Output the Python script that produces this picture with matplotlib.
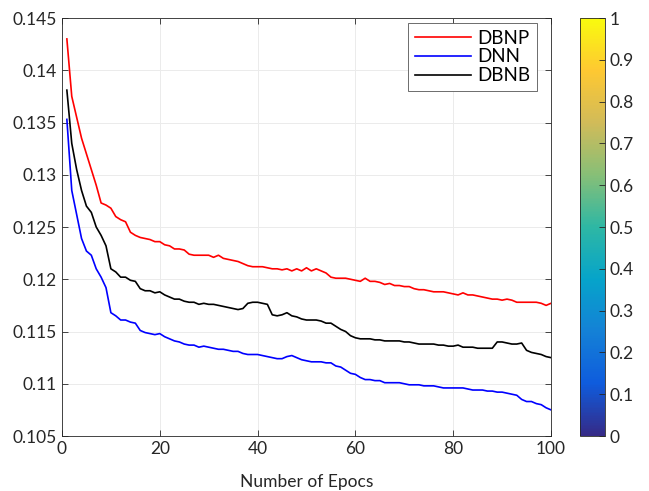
import numpy as np
import matplotlib
matplotlib.use("Agg")
import matplotlib.pyplot as plt
from matplotlib.colors import LinearSegmentedColormap, Normalize
from matplotlib.cm import ScalarMappable

plt.rcParams['font.family'] = ['Lato', 'DejaVu Sans']

# --- Data ---
epochs = list(range(1, 101))

dbnp = [0.1430, 0.1375, 0.1355, 0.1335, 0.1320, 0.1305, 0.1290, 0.1273, 0.1271, 0.1268,
        0.1260, 0.1257, 0.1255, 0.1245, 0.1242, 0.1240, 0.1239, 0.1238, 0.1236, 0.1236,
        0.1233, 0.1232, 0.1229, 0.1229, 0.1228, 0.1224, 0.1223, 0.1223, 0.1223, 0.1223,
        0.1221, 0.1223, 0.1220, 0.1219, 0.1218, 0.1217, 0.1215, 0.1213, 0.1212, 0.1212,
        0.1212, 0.1211, 0.1210, 0.1210, 0.1209, 0.1210, 0.1208, 0.1210, 0.1208, 0.1211,
        0.1208, 0.1210, 0.1208, 0.1206, 0.1202, 0.1201, 0.1201, 0.1201, 0.1200, 0.1199,
        0.1198, 0.1201, 0.1198, 0.1198, 0.1197, 0.1195, 0.1196, 0.1194, 0.1194, 0.1193,
        0.1193, 0.1191, 0.1190, 0.1190, 0.1189, 0.1188, 0.1188, 0.1188, 0.1187, 0.1186,
        0.1185, 0.1187, 0.1185, 0.1185, 0.1184, 0.1183, 0.1182, 0.1181, 0.1181, 0.1180,
        0.1181, 0.1180, 0.1178, 0.1178, 0.1178, 0.1178, 0.1178, 0.1177, 0.1175, 0.1177]

dnn = [0.1353, 0.1285, 0.1262, 0.1239, 0.1227, 0.1223, 0.1210, 0.1202, 0.1192, 0.1168,
       0.1165, 0.1161, 0.1161, 0.1159, 0.1158, 0.1151, 0.1149, 0.1148, 0.1147, 0.1148,
       0.1145, 0.1143, 0.1141, 0.1140, 0.1138, 0.1137, 0.1137, 0.1135, 0.1136, 0.1135,
       0.1134, 0.1133, 0.1133, 0.1132, 0.1131, 0.1131, 0.1129, 0.1128, 0.1128, 0.1128,
       0.1127, 0.1126, 0.1125, 0.1124, 0.1124, 0.1126, 0.1127, 0.1125, 0.1123, 0.1122,
       0.1121, 0.1121, 0.1121, 0.1120, 0.1120, 0.1117, 0.1116, 0.1113, 0.1110, 0.1109,
       0.1106, 0.1104, 0.1104, 0.1103, 0.1103, 0.1101, 0.1101, 0.1101, 0.1101, 0.1100,
       0.1099, 0.1099, 0.1099, 0.1098, 0.1098, 0.1098, 0.1097, 0.1096, 0.1096, 0.1096,
       0.1096, 0.1096, 0.1095, 0.1094, 0.1094, 0.1094, 0.1093, 0.1093, 0.1092, 0.1092,
       0.1091, 0.1090, 0.1089, 0.1085, 0.1083, 0.1083, 0.1081, 0.1080, 0.1077, 0.1075]

dbnb = [0.1381, 0.1330, 0.1305, 0.1285, 0.1270, 0.1264, 0.1250, 0.1242, 0.1232, 0.1210,
        0.1207, 0.1202, 0.1202, 0.1199, 0.1198, 0.1191, 0.1189, 0.1189, 0.1187, 0.1188,
        0.1185, 0.1183, 0.1181, 0.1181, 0.1179, 0.1178, 0.1178, 0.1176, 0.1177, 0.1176,
        0.1176, 0.1175, 0.1174, 0.1173, 0.1172, 0.1171, 0.1172, 0.1177, 0.1178, 0.1178,
        0.1177, 0.1176, 0.1166, 0.1165, 0.1166, 0.1168, 0.1165, 0.1164, 0.1162, 0.1161,
        0.1161, 0.1161, 0.1160, 0.1158, 0.1158, 0.1155, 0.1152, 0.1150, 0.1146, 0.1144,
        0.1143, 0.1143, 0.1143, 0.1142, 0.1142, 0.1141, 0.1141, 0.1141, 0.1141, 0.1140,
        0.1140, 0.1139, 0.1138, 0.1138, 0.1138, 0.1138, 0.1137, 0.1137, 0.1136, 0.1136,
        0.1137, 0.1135, 0.1135, 0.1135, 0.1134, 0.1134, 0.1134, 0.1134, 0.1140, 0.1140,
        0.1139, 0.1138, 0.1138, 0.1139, 0.1132, 0.1130, 0.1129, 0.1128, 0.1126, 0.1125]

yticks = [0.105, 0.11, 0.115, 0.12, 0.125, 0.13, 0.135, 0.14, 0.145]
ytick_labels = ['0.105', '0.11', '0.115', '0.12', '0.125', '0.13', '0.135', '0.14', '0.145']
xticks = [0, 20, 40, 60, 80, 100]
cbar_ticks = [0, 0.1, 0.2, 0.3, 0.4, 0.5, 0.6, 0.7, 0.8, 0.9, 1]
cbar_labels = ['0', '0.1', '0.2', '0.3', '0.4', '0.5', '0.6', '0.7', '0.8', '0.9', '1']

# approximate MATLAB parula
parula_pts = ['#352a87', '#0f5cdd', '#1481d6', '#06a4ca', '#2eb7a4',
              '#87bf77', '#d1bb59', '#fec832', '#f9fb0e']
parula = LinearSegmentedColormap.from_list('parula', parula_pts)

FS = 12.5
axis_col = '#262626'

fig = plt.figure(figsize=(6.49, 4.91), dpi=100)
ax = fig.add_axes([0.0955, 0.112, 0.7535, 0.8513])

ax.plot(epochs, dbnp, color='#ff0000', lw=1.2, label='DBNP')
ax.plot(epochs, dnn, color='#0000ff', lw=1.2, label='DNN')
ax.plot(epochs, dbnb, color='#000000', lw=1.2, label='DBNB')

ax.set_xlim(0, 100)
ax.set_ylim(0.105, 0.145)
ax.set_xticks(xticks)
ax.set_yticks(yticks)
ax.set_yticklabels(ytick_labels)
ax.tick_params(direction='in', top=True, right=True, length=4,
               labelsize=FS, colors=axis_col, width=0.6)
ax.grid(True, color='#ebebeb', lw=0.7)
ax.set_axisbelow(True)
for s in ax.spines.values():
    s.set_color(axis_col)
    s.set_linewidth(0.6)
ax.set_xlabel('Number of Epocs', fontsize=FS, color=axis_col, labelpad=12)

# legend box placed where it sits in the reference
leg = ax.legend(loc='upper right', bbox_to_anchor=(0.9714, 0.988),
                borderaxespad=0, fontsize=13.5, fancybox=False,
                framealpha=1, edgecolor='#555555',
                handlelength=3.0, labelspacing=0.1, handletextpad=0.35,
                borderpad=0.35)
leg.get_frame().set_linewidth(0.6)

cax = fig.add_axes([0.8937, 0.112, 0.0385, 0.8513])
sm = ScalarMappable(norm=Normalize(0, 1), cmap=parula)
cb = fig.colorbar(sm, cax=cax, ticks=cbar_ticks)
cb.ax.set_yticklabels(cbar_labels)
cb.ax.tick_params(direction='in', length=4, labelsize=FS, colors=axis_col,
                  width=0.6)
cb.outline.set_edgecolor(axis_col)
cb.outline.set_linewidth(0.6)

fig.savefig('out.png', dpi=100)
